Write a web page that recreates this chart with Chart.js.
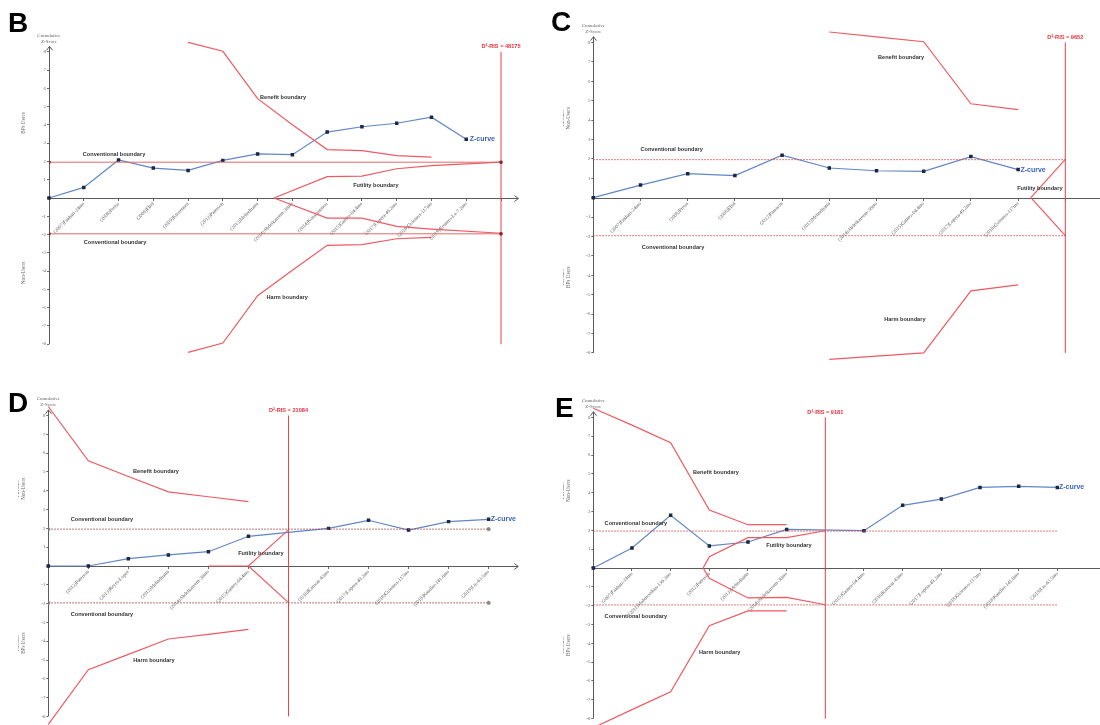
<!DOCTYPE html>
<html>
<head>
<meta charset="utf-8">
<script src="https://cdn.jsdelivr.net/npm/chart.js@4.4.0/dist/chart.umd.min.js"></script>
<style>
html, body { margin: 0; padding: 0; background: #fff; overflow: hidden; width: 1100px; height: 725px; }
canvas { position: absolute; }
.tag { position: absolute; font: bold 28px "Liberation Sans", Arial, sans-serif; line-height: 28px; color: #000; }
</style>
</head>
<body>
<canvas id="chartB"></canvas>
<canvas id="chartC"></canvas>
<canvas id="chartD"></canvas>
<canvas id="chartE"></canvas>
<div class="tag" style="left:8px;top:9px">B</div>
<div class="tag" style="left:551px;top:8px">C</div>
<div class="tag" style="left:8px;top:389px">D</div>
<div class="tag" style="left:555px;top:394px">E</div>
<script>
// shared values
var risY = [-8, 8];
var convUp = [1.96, 1.96];
var convLow = [-1.96, -1.96];
var yTicks = [-8, -7, -6, -5, -4, -3, -2, -1, 0, 1, 2, 3, 4, 5, 6, 7, 8];

// panel B
var bX = [0, 1, 2, 3, 4, 5, 6, 7, 8, 9, 10, 11, 12];
var bStudies = ['', '(2007)Fakhari-24mo', '(2008)Preiss', '(2008)Ebid', '(2009)Kristensen', '(2012)Paterson',
  '(2013)Mehndiratta', '(2014)Abdelkareem-36mo', '(2014)Konstantinou', '(2015)Gamez-04.4mo',
  '(2017)Lopera-49.2mo', '(2018)Gulemus-117mo', '(2019)Romero-Le-7.2mo'];
var bZ = [0, 0.58, 2.08, 1.64, 1.51, 2.06, 2.41, 2.37, 3.61, 3.9, 4.09, 4.42, 3.21];
var bBoundX = [4, 5, 6, 7, 8, 9, 10, 11];
var bBenefit = [8.52, 8.03, 5.44, 4.01, 2.65, 2.59, 2.32, 2.24];
var bHarm = [-8.45, -7.94, -5.35, -3.96, -2.59, -2.55, -2.23, -2.15];
var bFutX = [6.47, 8, 9, 10, 11, 13];
var bFutUp = [0, 1.17, 1.2, 1.6, 1.77, 1.96];
var bFutLow = [0, -1.1, -1.1, -1.55, -1.7, -1.93];
var bTicks = [0, 1, 2, 3, 4, 5, 6, 7, 8, 9, 10, 11, 12, 13];
var bRisX = [13, 13];
var bConvX = [0, 13];

// panel C
var cX = [0, 1, 2, 3, 4, 5, 6, 7, 8, 9];
var cStudies = ['', '(2007)Fakhari-24mo', '(2008)Preiss', '(2008)Ebid', '(2012)Paterson', '(2013)Mehndiratta',
  '(2014)Abdelkareem-36mo', '(2015)Gamez-04.4mo', '(2017)Lopera-49.2mo', '(2018)Gulemus-117mo'];
var cZ = [0, 0.65, 1.24, 1.14, 2.19, 1.53, 1.39, 1.36, 2.12, 1.45];
var cBoundX = [5, 6, 7, 8, 9];
var cBenefit = [8.54, 8.29, 8.04, 4.84, 4.54];
var cHarm = [-8.33, -8.17, -8.0, -4.8, -4.49];
var cFutX = [9.27, 10];
var cFutUp = [0, 1.98];
var cFutLow = [0, -1.95];
var cTicks = [0, 1, 2, 3, 4, 5, 6, 7, 8, 9, 10];
var cRisX = [10, 10];
var cConvX = [0, 10];

// panel D
var dX = [0, 1, 2, 3, 4, 5, 7, 8, 9, 10, 11];
var dStudies = ['', '(2012)Paterson', '(2013)Reyes-Lopez', '(2013)Mehndiratta', '(2014)Abdelkareem-36mo',
  '(2015)Gamez-04.4mo', '(2016)Kanwar-43mo', '(2017)Lopera-49.2mo', '(2018)Gulemus-117mo',
  '(2018)Kandler-141.6mo', '(2019)Liu-63.5mo'];
var dZ = [0, 0, 0.39, 0.59, 0.76, 1.58, 2.0, 2.43, 1.91, 2.36, 2.48];
var dBoundX = [0, 1, 2, 3, 4, 5];
var dBenefit = [8.48, 5.59, 4.76, 3.94, 3.68, 3.42];
var dHarm = [-8.42, -5.51, -4.7, -3.88, -3.64, -3.37];
var dFutUpX = [4, 5, 6];
var dFutUp = [0, 0, 1.92];
var dFutLowX = [5, 6];
var dFutLow = [0, -1.95];
var dTicks = [0, 1, 2, 3, 4, 5, 6, 7, 8, 9, 10, 11];
var dRisX = [6, 6];
var dConvX = [0, 11];

// panel E
var eX = [0, 1, 2, 3, 4, 5, 7, 8, 9, 10, 11, 12];
var eStudies = ['', '(2007)Fakhari-24mo', '(2011)Mahmoodian-136.3mo', '(2012)Paterson', '(2013)Mehndiratta',
  '(2014)Abdelkareem-36mo', '(2015)Gamez-04.4mo', '(2016)Kanwar-43mo', '(2017)Lopera-49.2mo',
  '(2018)Gulemus-117mo', '(2018)Kandler-141.6mo', '(2019)Liu-63.5mo'];
var eZ = [0, 1.06, 2.8, 1.17, 1.38, 2.05, 1.98, 3.33, 3.66, 4.28, 4.34, 4.28];
var eBoundX = [0, 1, 2, 3, 4, 5];
var eBenefit = [8.48, 7.59, 6.65, 3.08, 2.3, 2.3];
var eHarm = [-8.48, -7.52, -6.58, -3.06, -2.28, -2.28];
var eFutX = [2.84, 3, 4, 5, 6];
var eFutUp = [0, 0.6, 1.61, 1.61, 1.98];
var eFutLow = [0, -0.55, -1.59, -1.56, -1.95];
var eTicks = [0, 1, 2, 3, 4, 5, 6, 7, 8, 9, 10, 11, 12];
var eRisX = [6, 6];
var eConvX = [0, 12];

var RED = '#ee5a62';
var BLUE = '#6186c6';
var SANS = '"Liberation Sans", Arial, sans-serif';
var SERIF = '"Liberation Serif", "Times New Roman", serif';

function pts(xs, ys) {
  return xs.map(function (x, i) { return { x: x, y: ys[i] }; });
}

function redLine(xs, ys) {
  return { data: pts(xs, ys), borderColor: RED, borderWidth: 1.2, pointRadius: 0, clip: false };
}

function makePanel(id, p) {
  var M = 30, AX = 14;
  var left = p.x0 - M, top = p.y0 - p.yMax * p.yu - M;
  var right = p.x0 + p.xMax * p.xu + M, bottom = p.y0 - p.yMin * p.yu + M;
  var cl = Math.floor(left), ct = Math.floor(top);
  var cw = Math.ceil(right - cl), ch = Math.ceil(bottom - ct);
  var cv = document.getElementById(id);
  cv.width = cw; cv.height = ch;
  cv.style.left = cl + 'px'; cv.style.top = ct + 'px';

  var conv = p.dotted ? [1.5, 1.5] : [];
  var datasets = [
    { data: pts(p.convX, convUp), borderColor: p.convColor, borderWidth: 1, borderDash: conv,
      pointRadius: p.convDots ? 1.6 : 0, pointStyle: p.convDotStyle, pointBackgroundColor: p.convDotColor,
      pointBorderColor: p.convDotColor },
    { data: pts(p.convX, convLow), borderColor: p.convColor, borderWidth: 1, borderDash: conv,
      pointRadius: p.convDots ? 1.6 : 0, pointStyle: p.convDotStyle, pointBackgroundColor: p.convDotColor,
      pointBorderColor: p.convDotColor },
    redLine(p.boundX, p.benefit),
    redLine(p.boundX, p.harm),
    redLine(p.futUpX, p.futUp),
    redLine(p.futLowX, p.futLow),
    { data: pts(p.risX, risY), borderColor: '#e8404c', borderWidth: 1, pointRadius: 0, clip: false },
    { data: pts(p.zx, p.z), borderColor: BLUE, borderWidth: 1.2, pointStyle: 'rect', pointRadius: 1.6,
      pointBackgroundColor: '#1c2744', pointBorderColor: '#1c2744', clip: false }
  ];

  var deco = {
    id: 'deco',
    beforeDatasetsDraw: function (chart) {
      var ctx = chart.ctx, xs = chart.scales.x, ys = chart.scales.y;
      var x0 = Math.round(xs.getPixelForValue(0)) + 0.5;
      var yz = Math.round(ys.getPixelForValue(0)) + 0.5;
      var xe = xs.getPixelForValue(p.xMax);
      var yt = ys.getPixelForValue(8.3), yb = ys.getPixelForValue(-8);
      ctx.save();
      ctx.strokeStyle = '#5a5a5a';
      ctx.lineWidth = 1;
      ctx.beginPath();
      ctx.moveTo(x0, yb); ctx.lineTo(x0, yt);
      ctx.moveTo(x0, yz); ctx.lineTo(xe, yz);
      ctx.moveTo(x0 - 3, yt + 4); ctx.lineTo(x0, yt); ctx.lineTo(x0 + 3, yt + 4);
      ctx.moveTo(xe - 4, yz - 3); ctx.lineTo(xe, yz); ctx.lineTo(xe - 4, yz + 3);
      ctx.stroke();
      ctx.restore();
    },
    afterDatasetsDraw: function (chart) {
      var ctx = chart.ctx, xs = chart.scales.x, ys = chart.scales.y;
      var x0 = xs.getPixelForValue(0), yt = ys.getPixelForValue(8.3);
      ctx.save();
      ctx.textBaseline = 'middle';
      // axis title
      ctx.fillStyle = '#666';
      ctx.textAlign = 'center';
      ctx.font = '5px ' + SERIF;
      ctx.fillText('Cumulative', x0, yt - 11);
      ctx.fillText('Z-Score', x0, yt - 5);
      // side labels
      ctx.font = '5.2px ' + SERIF;
      [[4.1, p.sideUp], [-4.1, p.sideLow]].forEach(function (s) {
        ctx.save();
        ctx.translate(x0 - 28, ys.getPixelForValue(s[0]));
        ctx.rotate(-Math.PI / 2);
        ctx.fillText('Favours', 0, -3);
        ctx.fillText(s[1], 0, 3);
        ctx.restore();
      });
      // boundary names
      ctx.fillStyle = '#333';
      ctx.font = 'bold 5.6px ' + SANS;
      p.notes.forEach(function (n) {
        ctx.fillText(n[0], xs.getPixelForValue(n[1]), ys.getPixelForValue(n[2]));
      });
      // Z-curve label
      ctx.textAlign = 'left';
      ctx.fillStyle = '#3a64bd';
      ctx.font = 'bold 7px ' + SANS;
      ctx.fillText('Z-curve', xs.getPixelForValue(p.zLabel[0]), ys.getPixelForValue(p.zLabel[1]));
      // RIS label
      ctx.textAlign = 'center';
      ctx.fillStyle = '#e8303c';
      ctx.font = 'bold 5.6px ' + SANS;
      ctx.fillText(p.risText, xs.getPixelForValue(p.risX[0]), ys.getPixelForValue(8) - 5);
      ctx.restore();
    }
  };

  new Chart(cv, {
    type: 'line',
    data: { datasets: datasets },
    options: {
      responsive: false,
      animation: false,
      devicePixelRatio: 1,
      layout: { padding: { left: p.x0 - cl - AX, right: cw - (p.x0 + p.xMax * p.xu - cl),
        top: p.y0 - p.yMax * p.yu - ct, bottom: ch - (p.y0 - p.yMin * p.yu - ct) } },
      plugins: { legend: { display: false }, tooltip: { enabled: false } },
      elements: { line: { tension: 0 } },
      scales: {
        x: {
          type: 'linear', position: { y: 0 }, min: 0, max: p.xMax, bounds: 'data',
          afterBuildTicks: function (s) { s.ticks = p.ticks.map(function (v) { return { value: v }; }); },
          border: { display: false },
          grid: { drawOnChartArea: false, tickLength: 3, color: '#666' },
          ticks: {
            autoSkip: false, minRotation: 45, maxRotation: 45, padding: 0, color: '#5a5a5a',
            font: { size: 5, family: SERIF },
            callback: function (v) { var i = p.zx.indexOf(v); return i > 0 ? p.studies[i] : ''; }
          }
        },
        y: {
          type: 'linear', min: p.yMin, max: p.yMax, bounds: 'data',
          afterBuildTicks: function (s) { s.ticks = yTicks.map(function (v) { return { value: v }; }); },
          afterFit: function (s) { s.width = AX; },
          border: { display: false },
          grid: { drawOnChartArea: false, tickLength: 2, color: '#666' },
          ticks: {
            autoSkip: false, padding: 1, color: '#666',
            font: { size: 4.8, family: SERIF },
            callback: function (v) { return v === 0 ? '' : v; }
          }
        }
      }
    },
    plugins: [deco]
  });
}

makePanel('chartB', {
  x0: 49, xu: 34.77, xMax: 13.5, y0: 198, yu: 18.27, yMin: -8.6, yMax: 8.6,
  zx: bX, z: bZ, studies: bStudies, ticks: bTicks,
  boundX: bBoundX, benefit: bBenefit, harm: bHarm,
  futUpX: bFutX, futUp: bFutUp, futLowX: bFutX, futLow: bFutLow,
  risX: bRisX, convX: bConvX, risText: 'D\u00b2-RIS = 48175',
  convColor: '#e06a6a', dotted: false, convDots: true, convDotStyle: 'rect', convDotColor: '#8a2a2a',
  sideUp: 'BPs Users', sideLow: 'Non-Users',
  zLabel: [12.1, 3.21],
  notes: [['Benefit boundary', 6.73, 5.53], ['Conventional boundary', 1.87, 2.41],
    ['Futility boundary', 9.4, 0.71], ['Conventional boundary', 1.9, -2.41], ['Harm boundary', 6.85, -5.47]]
});

makePanel('chartC', {
  x0: 593.3, xu: 47.2, xMax: 11.5, y0: 197.7, yu: 19.4, yMin: -8.45, yMax: 8.7,
  zx: cX, z: cZ, studies: cStudies, ticks: cTicks,
  boundX: cBoundX, benefit: cBenefit, harm: cHarm,
  futUpX: cFutX, futUp: cFutUp, futLowX: cFutX, futLow: cFutLow,
  risX: cRisX, convX: cConvX, risText: 'D\u00b2-RIS = 9652',
  convColor: '#d85050', dotted: true, convDots: false,
  sideUp: 'Non-Users', sideLow: 'BPs Users',
  zLabel: [9.05, 1.45],
  notes: [['Benefit boundary', 6.52, 7.25], ['Conventional boundary', 1.66, 2.51],
    ['Futility boundary', 9.46, 0.5], ['Conventional boundary', 1.69, -2.55], ['Harm boundary', 6.6, -6.3]]
});

makePanel('chartD', {
  x0: 48.3, xu: 40.03, xMax: 11.74, y0: 566, yu: 18.81, yMin: -8.5, yMax: 8.6,
  zx: dX, z: dZ, studies: dStudies, ticks: dTicks,
  boundX: dBoundX, benefit: dBenefit, harm: dHarm,
  futUpX: dFutUpX, futUp: dFutUp, futLowX: dFutLowX, futLow: dFutLow,
  risX: dRisX, convX: dConvX, risText: 'D\u00b2-RIS = 21084',
  convColor: '#a84848', dotted: true, convDots: true, convDotStyle: 'circle', convDotColor: '#888',
  sideUp: 'Non-Users', sideLow: 'BPs Users',
  zLabel: [11.05, 2.48],
  notes: [['Benefit boundary', 2.69, 5.0], ['Conventional boundary', 1.34, 2.45],
    ['Futility boundary', 5.31, 0.69], ['Conventional boundary', 1.34, -2.6], ['Harm boundary', 2.64, -5.0]]
});

makePanel('chartE', {
  x0: 593.3, xu: 38.67, xMax: 13.5, y0: 568, yu: 18.83, yMin: -8.55, yMax: 8.6,
  zx: eX, z: eZ, studies: eStudies, ticks: eTicks,
  boundX: eBoundX, benefit: eBenefit, harm: eHarm,
  futUpX: eFutX, futUp: eFutUp, futLowX: eFutX, futLow: eFutLow,
  risX: eRisX, convX: eConvX, risText: 'D\u00b2-RIS = 9181',
  convColor: '#d85050', dotted: true, convDots: false,
  sideUp: 'Non-Users', sideLow: 'BPs Users',
  zLabel: [12.04, 4.28],
  notes: [['Benefit boundary', 3.17, 5.1], ['Conventional boundary', 1.1, 2.39],
    ['Futility boundary', 5.06, 1.22], ['Conventional boundary', 1.1, -2.55], ['Harm boundary', 3.27, -4.51]]
});
</script>
</body>
</html>
